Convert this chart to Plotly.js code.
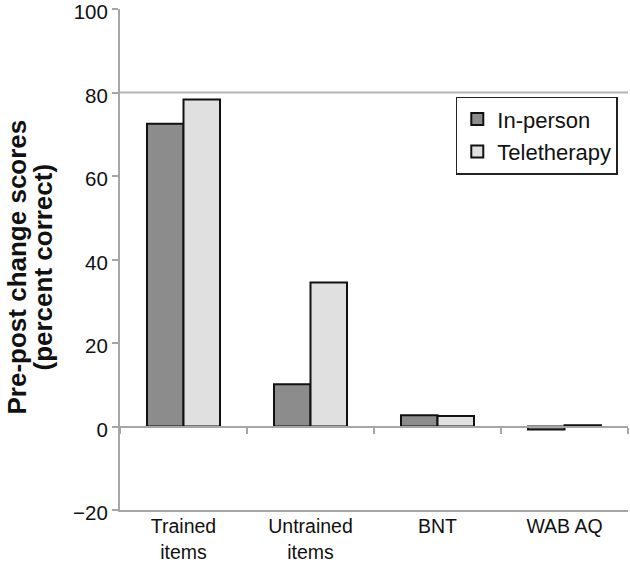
<!DOCTYPE html>
<html>
<head>
<meta charset="utf-8">
<script src="https://cdn.plot.ly/plotly-3.0.1.min.js"></script>
<style>html,body{margin:0;padding:0;background:#fff}#chart{width:630px;height:563px}</style>
</head>
<body>
<div id="chart"></div>
<script>
const categories = ["Trained<br>items", "Untrained<br>items", "BNT", "WAB AQ"];
const inPerson = [72.5, 10.1, 2.7, -0.7];
const teletherapy = [78.3, 34.5, 2.5, 0.3];
const seriesNames = ["In-person", "Teletherapy"];
const yTicks = [-20, 0, 20, 40, 60, 80, 100];
const yTitleLines = ["Pre-post change scores", "(percent correct)"];

const FONT = "Liberation Sans, Arial, sans-serif";
const axisGray = "#a6a6a6";

const traces = [
  {type: "bar", name: seriesNames[0], x: categories, y: inPerson,
   marker: {color: "#8c8c8c", line: {color: "#111", width: 2}}, legendgroup: "a", hoverinfo: "skip"},
  {type: "bar", name: seriesNames[1], x: categories, y: teletherapy,
   marker: {color: "#e0e0e0", line: {color: "#111", width: 2}}, legendgroup: "b", hoverinfo: "skip"},
  {type: "scatter", mode: "markers", x: categories, y: categories.map(() => null), xaxis: "x2",
   showlegend: false, hoverinfo: "skip"}
];

const layout = {
  width: 630, height: 563,
  margin: {l: 120, r: 2, t: 9, b: 53},
  paper_bgcolor: "#fff", plot_bgcolor: "#fff",
  font: {family: FONT, size: 21, color: "#111"},
  barmode: "group", bargap: 0.425, bargroupgap: 0,
  showlegend: true,
  legend: {x: 0.661, y: 0.825, xanchor: "left", yanchor: "top",
           bordercolor: "#222", borderwidth: 1.5, bgcolor: "#fff",
           font: {family: FONT, size: 22, color: "#111"},
           traceorder: "grouped", tracegroupgap: 1},
  xaxis: {type: "category", showline: true, linecolor: axisGray, linewidth: 2,
          ticks: "", showgrid: false, zeroline: false, mirror: false,
          ticklabelstandoff: -2,
          tickfont: {family: FONT, size: 19.5, color: "#111"}, fixedrange: true},
  xaxis2: {type: "category", overlaying: "x", anchor: "free", position: 20/120,
           matches: "x", showline: true, linecolor: axisGray, linewidth: 2,
           ticks: "outside", tickson: "boundaries", ticklen: 6, tickwidth: 2, tickcolor: axisGray,
           showticklabels: false, showgrid: false, zeroline: false},
  yaxis: {range: [-20.001, 100.001], tickvals: yTicks, showline: true, linecolor: axisGray, linewidth: 2,
          ticks: "outside", ticklen: 6, tickwidth: 2, tickcolor: axisGray,
          ticklabeloverflow: "allow", ticklabelshift: 3,
          showgrid: false, zeroline: false,
          tickfont: {family: FONT, size: 20.5, color: "#111"}},
  annotations: [
    {text: "<b>" + yTitleLines[0] + "</b>", xref: "paper", yref: "paper", x: 0, y: 0.484,
     xanchor: "center", yanchor: "middle", xshift: -103, textangle: -90, showarrow: false,
     font: {family: FONT, size: 26, color: "#111"}},
    {text: "<b>" + yTitleLines[1] + "</b>", xref: "paper", yref: "paper", x: 0, y: 0.484,
     xanchor: "center", yanchor: "middle", xshift: -77, textangle: -90, showarrow: false,
     font: {family: FONT, size: 26, color: "#111"}}
  ],
  shapes: [
    {type: "line", xref: "paper", yref: "y", x0: 0, x1: 1, y0: 80, y1: 80,
     line: {color: "#b5b5b5", width: 2}, layer: "below"}
  ]
};

Plotly.newPlot("chart", traces, layout, {displayModeBar: false, staticPlot: true});
</script>
</body>
</html>
